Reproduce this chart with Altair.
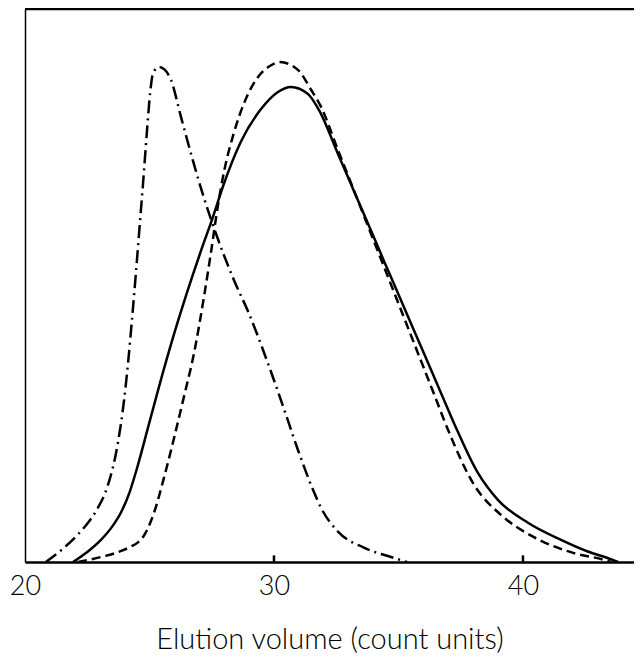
import altair as alt
import pandas as pd

# Dash-dot curve
dd_x = [20.84, 21.5, 22.13, 22.6, 22.93, 23.33, 23.73, 23.98, 24.15, 24.30, 24.45, 24.60,
        24.75, 24.90, 25.03, 25.15, 25.38, 25.62, 25.86, 26.27, 26.75, 27.19, 27.59, 28.39,
        28.96, 29.76, 30.40, 30.96, 31.61, 31.89, 32.57, 33.61, 34.70, 35.34]
dd_y = [0.0, 2.3, 5.0, 7.5, 9.8, 13.9, 21.5, 29.3, 36.5, 44.0, 52.0, 60.5,
        69.0, 78.0, 85.0, 88.5, 89.5, 89.0, 87.2, 80.4, 72.5, 65.8, 60.4, 51.0,
        45.3, 35.9, 27.7, 20.3, 12.6, 9.8, 5.5, 2.6, 0.9, 0.0]

# Solid curve
so_x = [21.93, 22.5, 23.05, 23.5, 23.86, 24.2, 24.54, 24.94, 25.34, 25.86, 26.47, 27.07,
        27.55, 27.95, 28.67, 29.48, 30.16, 30.68, 31.37, 31.81, 32.57, 33.21, 33.90, 34.42,
        34.98, 35.90, 36.6, 37.23, 38.19, 39.00, 40.20, 41.53, 42.6, 43.53, 43.82]
so_y = [0.0, 1.8, 4.0, 6.4, 9.0, 12.6, 17.6, 24.3, 31.0, 39.3, 48.2, 56.3,
        62.4, 67.9, 76.0, 81.9, 85.0, 85.9, 84.6, 81.7, 73.8, 67.1, 59.9, 54.4,
        48.6, 39.0, 31.7, 25.1, 16.1, 11.2, 7.1, 4.0, 1.9, 0.5, 0.0]

# Dashed curve
da_x = [22.13, 23.05, 23.86, 24.26, 24.55, 24.78, 25.18, 25.58, 25.98, 26.39, 26.79, 27.19,
        27.47, 27.75, 27.99, 28.39, 28.80, 29.36, 29.8, 30.24, 30.96, 31.49, 31.89, 32.57,
        33.29, 33.98, 34.82, 35.78, 36.4, 36.99, 38.03, 39.12, 40.44, 42.05, 43.25, 43.53]
da_y = [0.0, 0.9, 2.0, 2.8, 3.6, 4.8, 8.9, 15.2, 22.3, 30.0, 37.8, 48.0,
        56.0, 64.5, 70.5, 77.6, 83.0, 87.7, 89.6, 90.4, 89.0, 85.4, 82.3, 74.5,
        66.3, 58.4, 48.8, 37.8, 30.7, 23.9, 14.0, 8.5, 4.5, 1.6, 0.4, 0.0]

tick_values = [20, 30, 40]
inner_ticks = [30, 40]

FONT = "Lato"

xs = alt.Scale(domain=[20, 44.46], nice=False, zero=False)
ys = alt.Scale(domain=[0, 100], nice=False, zero=True)

xax = alt.Axis(values=tick_values, ticks=False, grid=False, labelFlush=False,
               labelFontSize=27, labelFont=FONT, labelFontWeight=300, labelColor="black",
               labelPadding=11, domainColor="black", domainWidth=2.5,
               title="Elution volume (count units)", titleFont=FONT, titleFontSize=29,
               titleFontWeight=300, titleColor="black", titlePadding=26)
yax = alt.Axis(labels=False, ticks=False, grid=False, title=None,
               domainColor="black", domainWidth=1.5)


def curve(xv, yv, dash):
    df = pd.DataFrame({"x": xv, "y": yv})
    props = dict(color="black", strokeWidth=2.5, interpolate="monotone", clip=True)
    if dash:
        props["strokeDash"] = dash
    return alt.Chart(df).mark_line(**props).encode(
        x=alt.X("x:Q", scale=xs, axis=xax),
        y=alt.Y("y:Q", scale=ys, axis=yax),
    )


solid = curve(so_x, so_y, None)
dashed = curve(da_x, da_y, [9, 5])
dashdot = curve(dd_x, dd_y, [13, 5, 2, 5])

top_border = alt.Chart(pd.DataFrame({"v": [100]})).mark_rule(
    color="black", strokeWidth=2.5).encode(y=alt.Y("v:Q", scale=ys, axis=yax))

tick_df = pd.DataFrame({"x": inner_ticks, "y0": [0] * len(inner_ticks), "y1": [1.2] * len(inner_ticks)})
ticks = alt.Chart(tick_df).mark_rule(color="black", strokeWidth=2.5).encode(
    x=alt.X("x:Q", scale=xs, axis=xax),
    y=alt.Y("y0:Q", scale=ys, axis=yax),
    y2="y1:Q",
)

chart = alt.layer(dashdot, dashed, solid, top_border, ticks).properties(
    width=609, height=553,
    autosize=alt.AutoSizeParams(type="none"),
    padding={"left": 17, "top": 1, "right": 0, "bottom": 95},
).configure_view(stroke=None).configure(background="white")

chart.save("out.html", embed_options={"renderer": "svg", "actions": False})
